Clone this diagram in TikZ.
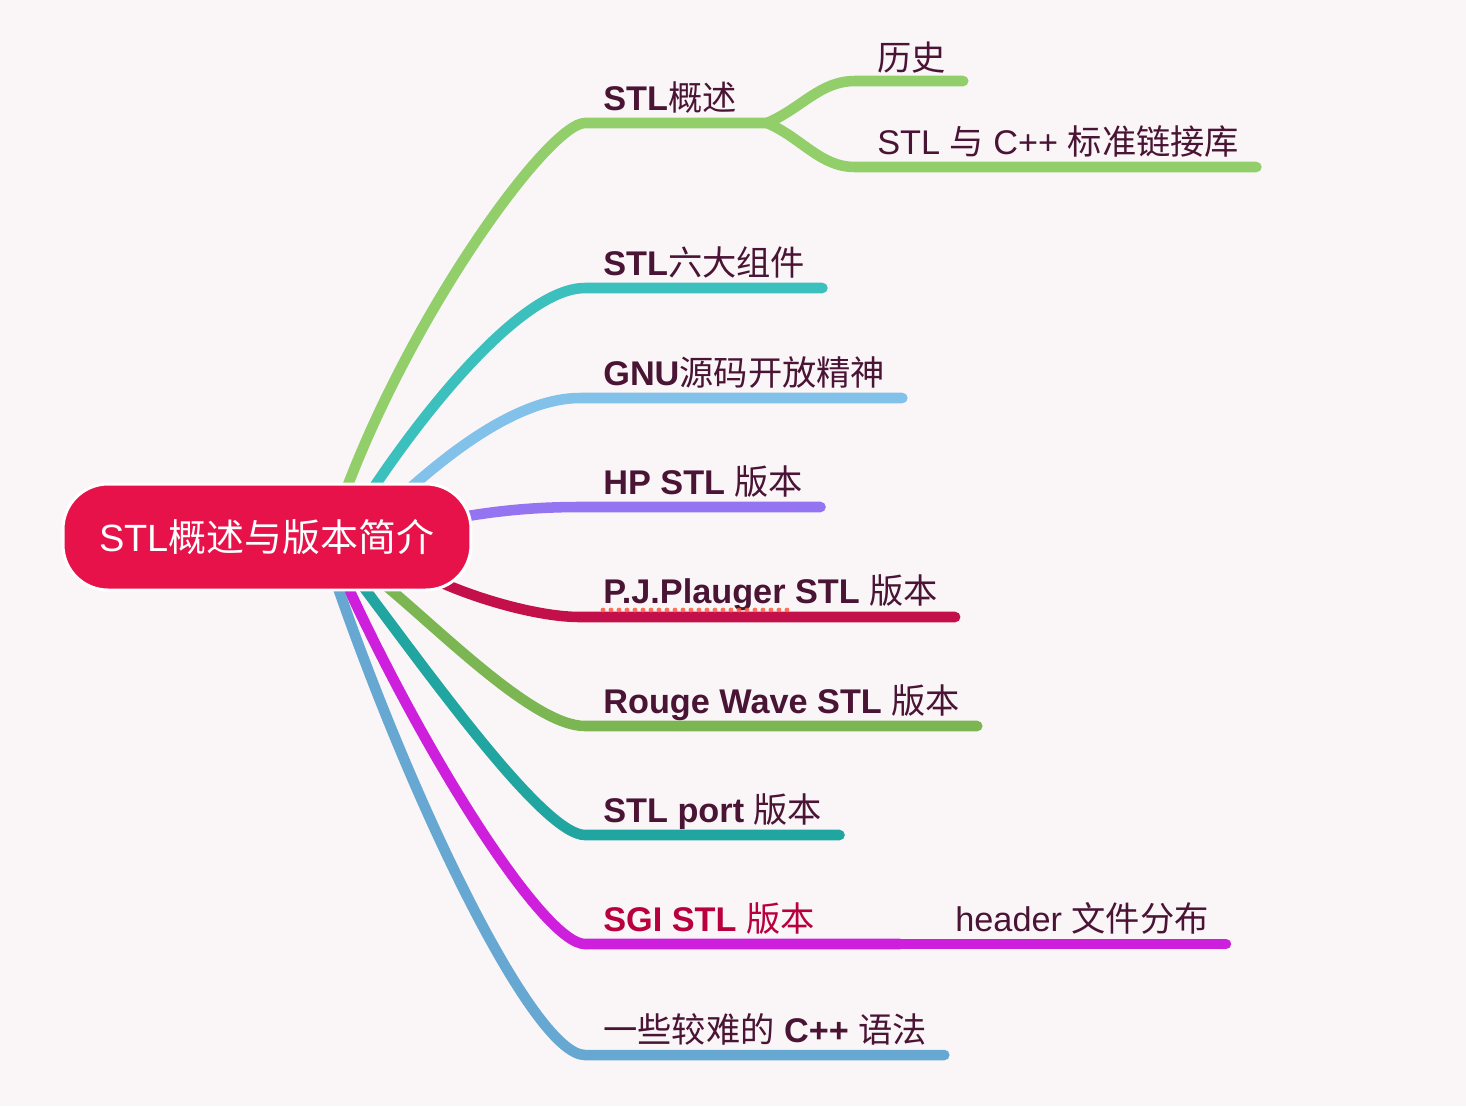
\documentclass[tikz,border=0pt]{standalone}
\usepackage{fontspec}
\setmainfont{Liberation Sans}
\newfontfamily\cjk{Noto Sans CJK SC}
\newcommand{\zh}[1]{{\cjk\mdseries #1}}
\usetikzlibrary{positioning}
\definecolor{bgpink}{HTML}{FAF6F8}
\definecolor{rootred}{HTML}{E8124A}
\definecolor{ink}{HTML}{4A1434}
\definecolor{sgired}{HTML}{B8003E}
\definecolor{grA}{HTML}{92CF6A}
\definecolor{tlA}{HTML}{3CC0BE}
\definecolor{blA}{HTML}{82C2EA}
\definecolor{puA}{HTML}{9574F2}
\definecolor{crA}{HTML}{C4104A}
\definecolor{grB}{HTML}{7BB652}
\definecolor{tlB}{HTML}{21A5A0}
\definecolor{mgB}{HTML}{CE20DC}
\definecolor{blB}{HTML}{66A8D2}
\definecolor{spellred}{HTML}{FF5A3C}

\begin{document}
\begin{tikzpicture}[x=0.02cm, y=-0.02cm,
    br/.style={line width=6pt, line cap=round, draw=#1},
    lbl/.style={anchor=base west, inner xsep=0.34cm, inner ysep=0pt, text=ink,
      font=\fontsize{19.5}{23}\selectfont},
    root/.style={rounded corners=0.9cm, fill=rootred, draw=white, line width=1.7pt,
      minimum width=8.16cm, minimum height=2.12cm, text=white,
      font=\fontsize{21.6}{26}\selectfont},
    spell/.style={line width=2.8pt, line cap=round, dash pattern=on 0pt off 0.16cm,
      draw=spellred, opacity=0.85}]
  \fill[bgpink] (0,0) rectangle (1466,1106);
  \useasboundingbox (0,0) rectangle (1466,1106);

  % topic labels
  \node[lbl] (ovw) at (586,110) {\textbf{STL}\zh{概述}};
  \node[lbl] (hist) at (860,70) {\zh{历史}};
  \node[lbl] (stdl) at (860,154) {STL \zh{与} C++ \zh{标准链接库}};
  \node[lbl] (six) at (586,275) {\textbf{STL}\zh{六大组件}};
  \node[lbl] (gnu) at (586,385) {\textbf{GNU}\zh{源码开放精神}};
  \node[lbl] (hp) at (586,494) {\textbf{HP STL }\zh{版本}};
  \node[lbl] (pj) at (586,603) {\textbf{P.J.Plauger STL }\zh{版本}};
  \node[lbl] (rw) at (586,713) {\textbf{Rouge Wave STL }\zh{版本}};
  \node[lbl] (port) at (586,822) {\textbf{STL port }\zh{版本}};
  \node[lbl, text=sgired] (sgi) at (586,931) {\textbf{SGI STL }\zh{版本}};
  \node[lbl] (hdr) at (938,931) {header \zh{文件分布}};
  \node[lbl] (hard) at (586,1042) {\zh{一些较难的} \textbf{C++} \zh{语法}};

  % branch ends
  \coordinate (s1) at (346,490); \coordinate (e1) at (585,123);
  \coordinate (s2) at (372,490); \coordinate (e2) at (585,288);
  \coordinate (s3) at (408,490); \coordinate (e3) at (580,398);
  \coordinate (s4) at (462,517); \coordinate (e4) at (580,507);
  \coordinate (s5) at (440,582); \coordinate (e5) at (580,617);
  \coordinate (s6) at (385,585); \coordinate (e6) at (585,726);
  \coordinate (s7) at (362,585); \coordinate (e7) at (585,835);
  \coordinate (s8) at (347,585); \coordinate (e8) at (585,944);
  \coordinate (s9) at (337,585); \coordinate (e9) at (585,1055);
  \coordinate (fork) at (767,123);
  \coordinate (h1) at (855,81);
  \coordinate (h2) at (855,167);
  \coordinate (j8) at (900,944);

  \draw[br=grA] (s1) .. controls +(70,-185) and +(-35,0) .. (e1) -- (fork);
  \draw[br=grA] (fork) .. controls +(35,-15) and +(-35,0) .. (h1) -- (h1 -| hist.east);
  \draw[br=grA] (fork) .. controls +(35,15) and +(-35,0) .. (h2) -- (h2 -| stdl.east);
  \draw[br=tlA] (s2) .. controls +(60,-90) and +(-60,0) .. (e2) -- (e2 -| six.east);
  \draw[br=blA] (s3) .. controls +(45,-40) and +(-60,0) .. (e3) -- (e3 -| gnu.east);
  \draw[br=puA] (s4) .. controls +(40,-7) and +(-40,0) .. (e4) -- (e4 -| hp.east);
  \draw[br=crA] (s5) .. controls +(40,18) and +(-40,0) .. (e5) -- (e5 -| pj.east);
  \draw[br=grB] (s6) .. controls +(60,50) and +(-50,0) .. (e6) -- (e6 -| rw.east);
  \draw[br=tlB] (s7) .. controls +(75,100) and +(-40,0) .. (e7) -- (e7 -| port.east);
  \draw[br=mgB] (s8) .. controls +(82,178) and +(-40,0) .. (e8) -- (j8);
  \draw[br=mgB] (j8) -- (j8 -| hdr.east);
  \draw[br=blB] (s9) .. controls +(80,230) and +(-50,0) .. (e9) -- (e9 -| hard.east);
  \draw[spell] (603,610) -- (790,610);

  % central topic
  \node[root] (root) at (267,537) {STL\zh{概述与版本简介}};
\end{tikzpicture}
\end{document}
